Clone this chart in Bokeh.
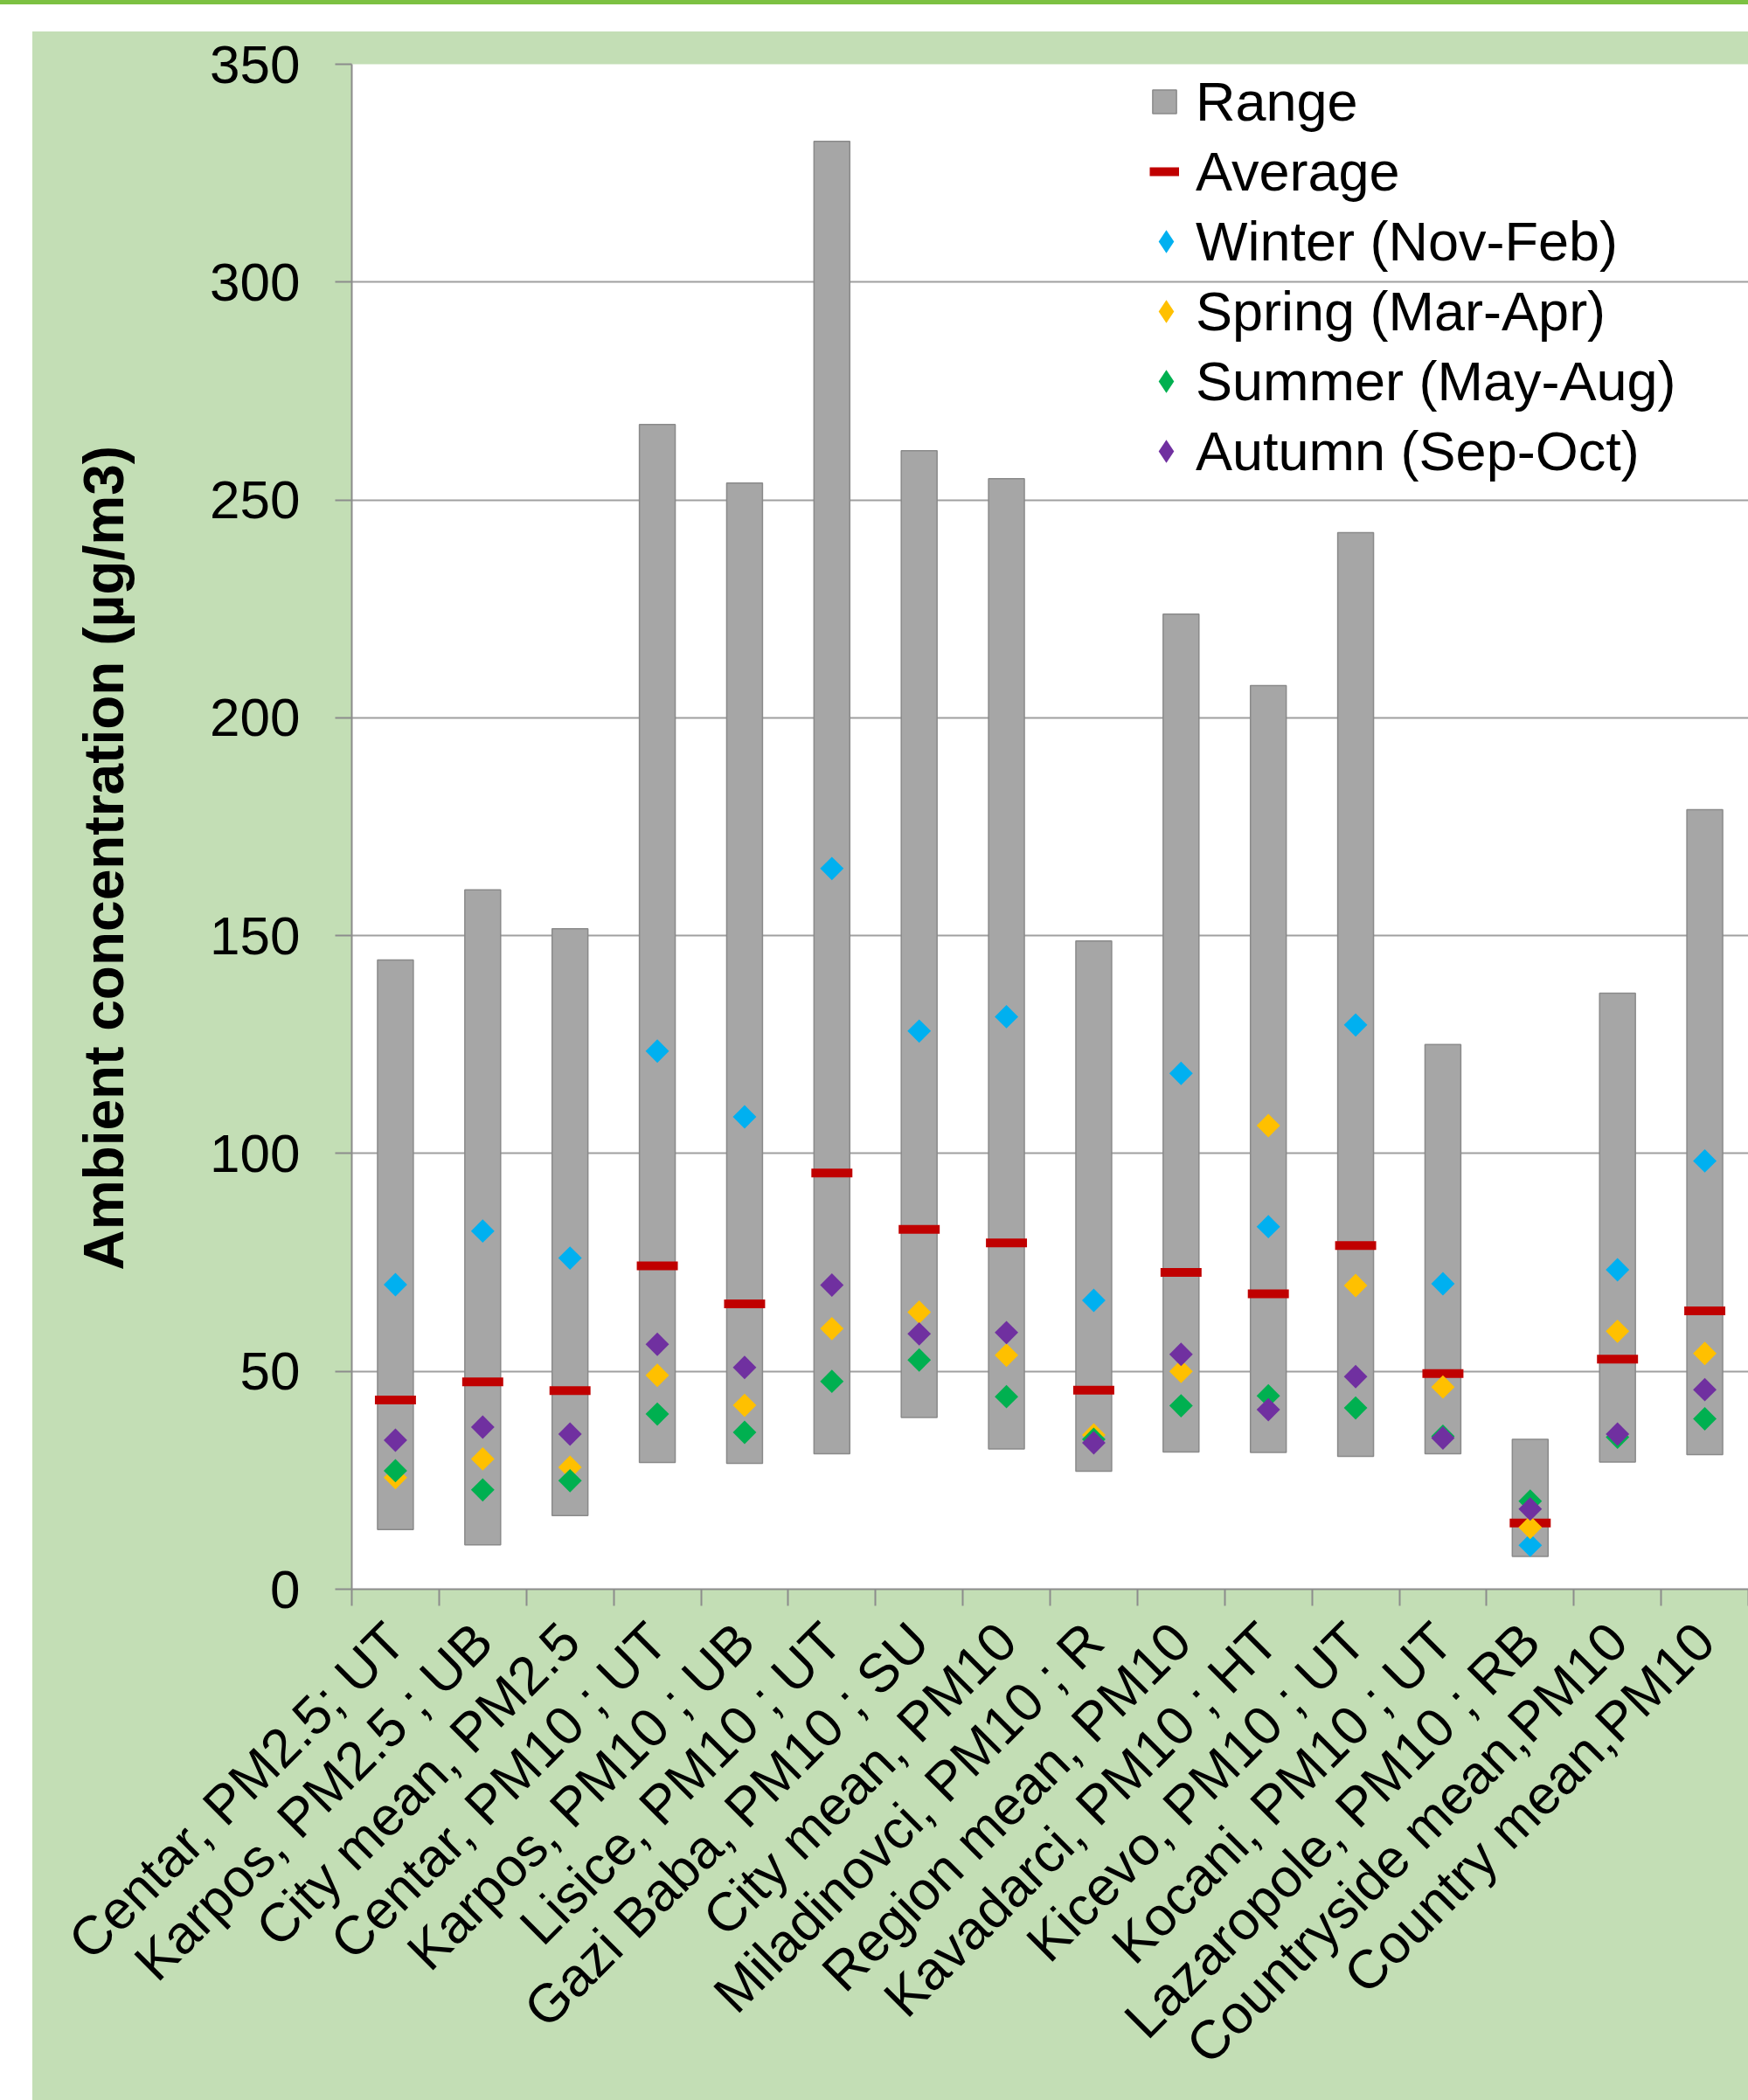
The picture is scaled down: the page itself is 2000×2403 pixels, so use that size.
from math import pi
from bokeh.plotting import figure
from bokeh.models import (ColumnDataSource, Range1d, FixedTicker, Legend, LegendItem, Div, Title)
from bokeh.layouts import column
from bokeh.embed import file_html
from bokeh.resources import INLINE

categories = [
    "Centar, PM2.5; UT", "Karpos, PM2.5 ; UB", "City mean, PM2.5",
    "Centar, PM10 ; UT", "Karpos, PM10 ; UB", "Lisice, PM10 ; UT",
    "Gazi Baba, PM10 ; SU", "City mean, PM10", "Miladinovci, PM10 ; R",
    "Region mean, PM10", "Kavadarci, PM10 ; HT", "Kicevo, PM10 ; UT",
    "Kocani, PM10 ; UT", "Lazaropole, PM10 ; RB", "Countryside mean,PM10",
    "Country mean,PM10",
]
range_min = [13.7, 10.2, 16.9, 29.1, 28.9, 31.1, 39.4, 32.2, 27.1, 31.5, 31.4, 30.5, 31.1, 7.5, 29.2, 30.9]
range_max = [144.4, 160.5, 151.6, 267.3, 253.9, 332.3, 261.3, 254.9, 148.8, 223.8, 207.4, 242.5, 125.0, 34.4, 136.8, 178.9]
average = [43.4, 47.6, 45.6, 74.2, 65.5, 95.5, 82.6, 79.5, 45.7, 72.7, 67.8, 78.9, 49.5, 15.2, 52.8, 63.9]
winter = [69.9, 82.2, 76.0, 123.5, 108.4, 165.4, 128.1, 131.4, 66.3, 118.4, 83.2, 129.5, 70.1, 10.1, 73.3, 98.3]
spring = [25.6, 29.9, 28.0, 49.1, 42.2, 59.8, 63.6, 53.7, 35.4, 50.0, 106.4, 69.7, 46.4, 14.2, 59.2, 54.1]
summer = [27.2, 22.8, 24.9, 40.2, 36.0, 47.7, 52.6, 44.2, 34.4, 42.1, 44.4, 41.6, 35.1, 20.2, 34.9, 39.1]
autumn = [34.2, 37.2, 35.6, 56.2, 50.9, 69.8, 58.6, 58.9, 33.6, 53.9, 41.2, 48.8, 34.7, 18.4, 35.6, 45.8]
y_ticks = [0, 50, 100, 150, 200, 250, 300, 350]
y_title = "Ambient concentration (µg/m3)"

season_names = ["Winter (Nov-Feb)", "Spring (Mar-Apr)", "Summer (May-Aug)", "Autumn (Sep-Oct)"]
season_cols = ["winter", "spring", "summer", "autumn"]
season_colors = ["#00b0f0", "#ffc000", "#00b050", "#7030a0"]

n = len(categories)
xc = [i + 0.5 for i in range(n)]
half_dash = 0.235

src = ColumnDataSource(dict(
    x=xc, lo=range_min, hi=range_max, avg=average,
    x0=[v - half_dash for v in xc], x1=[v + half_dash for v in xc],
    winter=winter, spring=spring, summer=summer, autumn=autumn,
))
# one invisible (NaN) point: legend-only proxies
proxy_src = ColumnDataSource(dict(x=[float("nan")], y=[float("nan")]))

GREEN_BG = "#c3deb5"
AX = "#8c8c8c"
FONT = "Liberation Sans"

panel_bg = ("linear-gradient(to right, #ffffff 37px, rgba(255,255,255,0) 37px), "
            "linear-gradient(to bottom, #ffffff 31px, " + GREEN_BG + " 31px)")

p = figure(width=2000, height=2398, output_backend="svg", toolbar_location=None,
           x_range=Range1d(0, n), y_range=Range1d(0, 350),
           min_border_left=402, min_border_right=0, min_border_top=68,
           min_border_bottom=585,
           background_fill_color="white", border_fill_color=None,
           outline_line_color=None, margin=(0, 0, 0, 0),
           styles={"background": panel_bg})

bars = p.vbar(x="x", bottom="lo", top="hi", width=0.41, source=src,
              fill_color="#a6a6a6", line_color="#8a8a8a", line_width=1.5)
avg_r = p.segment(x0="x0", y0="avg", x1="x1", y1="avg", source=src,
                  line_color="#c00000", line_width=10)

season_proxies = []
for col, color in zip(season_cols, season_colors):
    p.scatter(x="x", y=col, source=src, marker="square", angle=pi / 4, size=19,
              fill_color=color, line_color=None)
    season_proxies.append(p.scatter(x="x", y="y", source=proxy_src, marker="diamond", size=26,
                                    fill_color=color, line_color=None))

# grid & axes
p.xgrid.visible = False
p.ygrid.ticker = FixedTicker(ticks=y_ticks)
p.ygrid.grid_line_color = "#a0a0a0"
p.ygrid.grid_line_width = 2

yax = p.yaxis[0]
yax.ticker = FixedTicker(ticks=y_ticks)
yax.axis_line_color = AX
yax.axis_line_width = 2
yax.major_tick_line_color = AX
yax.major_tick_line_width = 2
yax.major_tick_out = 19
yax.major_tick_in = 0
yax.minor_tick_line_color = None
yax.major_label_standoff = 40
yax.major_label_text_font = FONT
yax.major_label_text_font_size = "62px"
yax.major_label_text_color = "black"

# y-axis title as a side title (sits a little below the frame centre, as in the original)
ytitle = Title(text=y_title, align="left", offset=365, vertical_align="top", standoff=161,
               text_font=FONT, text_font_style="bold", text_font_size="64px",
               text_color="black")
p.add_layout(ytitle, "left")

xax = p.xaxis[0]
xax.ticker = FixedTicker(ticks=xc, minor_ticks=list(range(n + 1)))
xax.major_label_overrides = {v: c for v, c in zip(xc, categories)}
xax.major_label_orientation = pi / 4
xax.axis_line_color = AX
xax.axis_line_width = 2
xax.major_tick_line_color = None
xax.major_tick_out = 0
xax.major_tick_in = 0
xax.minor_tick_line_color = AX
xax.minor_tick_line_width = 2
xax.minor_tick_out = 19
xax.minor_tick_in = 0
xax.major_label_standoff = 30
xax.major_label_text_font = FONT
xax.major_label_text_font_size = "62px"
xax.major_label_text_color = "black"

common = dict(orientation="vertical", spacing=8, padding=0, margin=0,
              border_line_color=None, background_fill_alpha=0,
              label_text_font=FONT, label_text_font_size="63px", label_text_color="black")

legend1 = Legend(items=[
    LegendItem(label="Range", renderers=[bars]),
    LegendItem(label="Average", renderers=[avg_r]),
], location=(913, 1586), glyph_width=34, glyph_height=34, label_standoff=19, **common)

legend2 = Legend(items=[
    LegendItem(label=name, renderers=[r]) for name, r in zip(season_names, season_proxies)
], location=(899, 1266), glyph_width=66, glyph_height=66, label_standoff=1, **common)

p.add_layout(legend1)
p.add_layout(legend2)

topline = Div(text="", width=2000, height=5, margin=(0, 0, 0, 0),
              styles={"background-color": "#7cc142"})

layout = column(topline, p, spacing=0)

open("out.html", "w").write(file_html(layout, INLINE))
